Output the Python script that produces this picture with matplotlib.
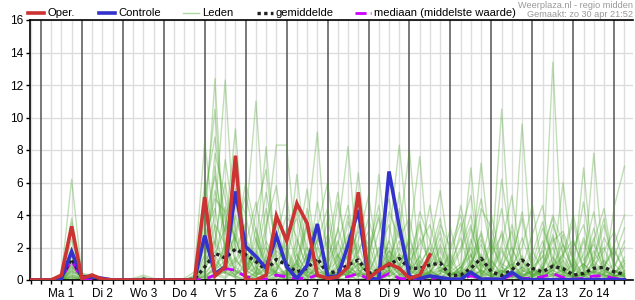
import numpy as np
import matplotlib
matplotlib.use("Agg")
import matplotlib.pyplot as plt
from matplotlib.lines import Line2D

plt.rcParams['font.family'] = ['Liberation Sans', 'DejaVu Sans']

# 6-hourly steps from -6 h to 342 h (0 h = start of "Ma 1")
hours = list(range(-6, 348, 6))

day_labels = ["Ma 1", "Di 2", "Wo 3", "Do 4", "Vr 5", "Za 6", "Zo 7",
              "Ma 8", "Di 9", "Wo 10", "Do 11", "Vr 12", "Za 13", "Zo 14"]
y_ticks = [0, 2, 4, 6, 8, 10, 12, 14, 16]

oper = [0, 0, 0, 0.3, 3.3, 0.1, 0.3, 0.05, 0, 0, 0, 0, 0, 0, 0, 0, 0,
        5.1, 0.25, 0.8, 7.65, 0, 0, 0.3, 3.95, 2.42, 4.7, 3.5, 0.3,
        0.1, 0.2, 0.8, 5.4, 0.1, 0.6, 1.0, 0.72, 0.1, 0.3, 1.55]

controle = [0, 0, 0, 0.1, 1.75, 0.15, 0.2, 0.1, 0, 0, 0, 0, 0, 0, 0, 0, 0,
            2.73, 0.4, 0.8, 5.45, 2.05, 1.45, 0.72, 2.73, 0.82, 0.1, 0.9, 3.45,
            0.2, 0.25, 2.15, 4.3, 0.1, 0.05, 6.68, 3.3, 0.2, 0.1, 0.25, 0.15,
            0.05, 0.05, 0.47, 0.05, 0.05, 0.05, 0.47, 0.05, 0.02, 0.02, 0.02, 0.02,
            0.02, 0.02, 0.02, 0.02, 0.02, 0.02]

gemiddelde = [0, 0, 0, 0.2, 1.3, 0.2, 0.2, 0.05, 0, 0, 0, 0.05, 0, 0, 0, 0, 0.05,
              0.8, 1.65, 1.35, 1.9, 1.55, 1.13, 0.62, 1.27, 0.92, 0.5, 0.72, 1.33,
              0.4, 0.55, 0.92, 1.23, 0.4, 0.6, 0.92, 1.33, 0.72, 0.72, 0.92, 1.05,
              0.27, 0.3, 0.72, 1.34, 0.51, 0.27, 0.62, 1.23, 0.72, 0.5, 0.85, 0.7,
              0.3, 0.4, 0.72, 0.78, 0.5, 0.35]

mediaan = [0, 0, 0, 0.1, 1.2, 0.05, 0.05, 0, 0, 0, 0, 0, 0, 0, 0, 0, 0,
           0.05, 0.3, 0.7, 0.6, 0.2, 0.1, 0.05, 0.3, 0.2, 0.1, 0.1, 0.3,
           0.1, 0.15, 0.2, 0.4, 0.05, 0.1, 0.4, 0.1, 0.05, 0.1, 0.1, 0.15,
           0.05, 0.05, 0.25, 0.1, 0.05, 0.05, 0.3, 0.1, 0.1, 0.2, 0.4, 0.15,
           0.05, 0.1, 0.25, 0.25, 0.1, 0.05]

leden = [
    [0, 0,0,0.3,6.2, 0.3,0.2,0,0, 0,0,0,0, 0,0,0,0.3, 3.0,12.4,1.0,4.0, 1.5,0.5,2.0,0.3, 0,1.2,3.5,0.8, 0.2,0.5,2.0,5.0, 0.8,0.3,1.5,0.5, 0,0.4,1.2,3.0, 0.5,0.2,1.0,2.5, 0.8,0.3,0.5,1.5, 0.2,0.8,2.0,0.5, 0.1,0.3,1.8,0.6, 0.2,0.5],
    [0, 0,0,0.2,3.8, 0.4,0.3,0.1,0, 0,0,0.2,0, 0,0,0,0, 1.5,4.0,12.3,2.0, 0.5,1.8,0.3,0, 0.5,2.5,0.8,0.2, 0,1.5,0.4,2.2, 0.3,0,0.8,3.5, 1.0,0.2,0.5,1.8, 0.3,0.8,2.0,0.4, 0,1.2,3.0,0.6, 0.3,0,0.8,2.2, 0.5,1.0,0.3,0, 0.4,1.2],
    [0, 0,0,0.1,3.5, 0.2,0.4,0,0, 0,0,0,0, 0,0,0.1,0.5, 8.5,3.0,0.5,1.2, 2.5,0.8,0,0.6, 1.8,0.4,0,1.0, 2.8,0.6,0.2,1.5, 0.4,2.0,0.8,0, 0.3,0.8,2.2,5.5, 1.2,0.3,0.6,0.2, 1.5,2.8,0.4,0, 0.6,1.8,0.4,0.2, 1.2,0.3,0,0.8, 2.0,0.4],
    [0, 0,0,0.2,2.5, 0.1,0.2,0,0, 0,0,0,0, 0,0,0,0.2, 4.5,10.5,2.0,0.6, 0.2,3.2,1.0,0.4, 0,0.3,1.5,2.8, 0.5,0,0.6,1.8, 3.0,0.5,0.2,0.9, 2.5,0.6,0,0.4, 1.8,3.5,0.7,0.2, 0.4,0,1.5,3.8, 0.6,0.2,0.8,1.6, 0.3,2.4,0.5,0.1, 0.6,0.2],
    [0, 0,0,0.1,2.0, 0.3,0.1,0,0, 0,0,0.1,0, 0,0,0,0, 2.0,5.5,3.0,9.3, 1.2,0.4,0.2,2.2, 0.6,0,0.4,1.2, 0.2,3.2,1.0,0.3, 0,0.6,2.4,0.8, 0.2,0,0.5,1.3, 0.1,0.5,3.2,1.0, 0.2,0.6,0.3,0, 1.0,3.2,1.4,0.3, 0.2,0.8,2.6,0.5, 0.3,1.4],
    [0, 0,0,0,1.8, 0.2,0.3,0,0, 0,0,0,0, 0,0,0,0, 1.0,2.5,6.0,1.8, 3.5,11.0,2.0,0.5, 0.2,1.0,0.3,0, 0.6,1.2,4.0,0.8, 0.2,0,0.3,1.6, 0.5,3.4,0.6,0.2, 0,0.4,1.2,0.5, 2.2,0.8,0.2,0.6, 0.3,0.5,1.0,0.2, 0,0.6,1.4,3.8, 0.6,0.2],
    [0, 0,0,0.1,1.5, 0.2,0.1,0,0, 0,0,0,0, 0,0,0,0, 0.6,7.0,1.5,0.3, 0.8,2.0,8.2,1.0, 0.3,0,0.6,2.0, 0.4,0.2,0.8,0.3, 1.5,4.0,0.5,0.1, 0,0.3,0.9,2.0, 0.5,1.0,6.9,0.2, 0.6,0.3,0.1,0.8, 0.2,0.6,2.8,0.5, 0.1,0.4,0.8,0.3, 0.2,0.6],
    [0, 0,0,0,1.2, 0.1,0.2,0,0, 0,0,0,0, 0,0,0,0, 0.3,1.2,4.5,2.5, 0.8,0.4,3.0,8.3, 8.3,1.5,0.5,0.2, 0,0.8,0.3,1.4, 0.6,0.2,1.0,0.4, 0.2,1.2,0.3,0, 0.8,0.3,2.5,0.6, 0.2,0.4,1.2,0.3, 0.5,0,0.4,1.6, 2.5,0.6,0.2,0.4, 1.0,0.3],
    [0, 0,0,0,1.0, 0.1,0.1,0,0, 0,0,0,0, 0,0,0,0, 0.2,0.8,2.0,5.0, 0.6,0.2,1.4,3.6, 1.0,6.5,1.2,0.4, 0.2,0.5,1.5,0.6, 0,0.3,0.8,2.4, 0.6,0.2,0,0.6, 0.3,0.6,0.2,1.4, 0.4,2.0,0.6,0.2, 0,0.3,0.8,6.0, 0.8,0.2,1.2,0.4, 0.6,0.3],
    [0, 0,0,0,0.8, 0,0.1,0,0, 0,0,0,0, 0,0,0,0, 0.5,2.4,0.8,0.3, 1.8,0.5,0.2,1.2, 2.0,0.6,3.2,9.1, 0.8,0.2,0.4,1.0, 0.3,0.8,0.2,0.6, 1.4,0.3,0.6,0.2, 0,0.4,1.0,7.2, 1.2,0.3,0.2,0.5, 0.8,0.2,0.6,1.2, 0.3,0,0.5,0.8, 0.2,0.4],
    [0, 0,0,0,0.6, 0.1,0,0,0, 0,0,0,0, 0,0,0,0, 0.2,0.6,1.8,0.5, 0.2,2.6,0.6,0, 0.4,1.2,0.3,0.6, 1.4,3.0,8.2,0.6, 0.2,0.6,1.8,0.4, 0,0.3,0.5,1.2, 0.4,0.2,0.8,0.3, 1.0,10.5,0.8,0.2, 0.5,1.5,0.3,0.2, 0.6,0.3,1.0,0.4, 0.2,0.8],
    [0, 0,0,0,0.5, 0,0,0,0, 0,0,0,0, 0,0,0,0, 0,1.0,0.4,2.6, 0.6,0.2,0.8,0.4, 0,0.6,2.0,0.5, 0.3,0.8,1.5,6.6, 1.2,0.3,0.6,0.2, 0.4,1.5,0.3,0.2, 0.5,0.2,0.4,1.6, 0.3,0.6,0.2,9.6, 0.8,0.2,0.4,0.3, 1.0,0.2,0.6,0.3, 0.2,0.5],
    [0, 0,0,0,0.4, 0,0.1,0,0, 0,0,0,0, 0,0,0,0, 0,0.4,1.0,0.2, 0.4,1.4,0.3,0.6, 1.6,0.2,0.5,0.3, 0.2,0.6,0.3,1.0, 0.4,6.5,1.0,0.3, 0.8,0.2,0.4,0.6, 0.2,0.8,0.3,0.5, 0.2,0.4,1.0,0.3, 0.6,0.2,13.4,0.8, 0.3,0.5,0.2,0.6, 0.3,0.2],
    [0, 0,0,0,0.3, 0,0,0,0, 0,0,0.1,0, 0,0,0,0, 0,0.2,0.6,1.4, 0.3,0.8,0.2,0.4, 0.6,1.0,0.2,0.4, 0,0.3,0.6,0.2, 0.5,0.2,2.5,8.3, 2.0,0.4,0.2,0.6, 0.3,0.6,1.5,0.4, 0.2,0.5,0.3,0.8, 0.4,0.2,0.6,0.2, 0.3,6.9,0.4,0.2, 0.5,0.3],
    [0, 0,0,0,0.2, 0,0,0,0, 0,0,0,0, 0,0,0,0, 0.1,0.4,0.2,0.8, 0.2,0.4,1.0,0.2, 0.3,0.6,0.2,0.8, 0.2,0.4,0.3,0.6, 0.2,0.8,1.2,3.0, 8.0,0.6,0.2,0.4, 0.6,0.2,0.5,1.0, 0.3,0.6,0.2,0.4, 0.2,0.5,0.3,0.6, 0.2,0.4,7.8,0.6, 0.3,0.2],
    [0, 0,0,0,0.2, 0,0,0,0, 0,0,0,0, 0,0,0,0, 0,0.3,0.5,0.2, 0.1,0.3,0.6,0.2, 0.4,0.2,0.6,0.3, 0.2,0.5,0.2,0.4, 0.3,0.2,0.5,0.8, 2.5,7.6,0.5,0.2, 0.3,0.5,0.2,0.6, 0.4,0.2,0.6,0.3, 0.2,0.4,0.8,0.5, 0.2,0.3,0.5,0.3, 4.5,7.0],
    [0, 0,0,0,0.1, 0,0,0,0, 0,0,0,0, 0,0,0,0, 0.8,1.5,0.4,0.2, 0,0.5,1.2,0.3, 0.1,0.2,0.8,0.4, 0.6,1.6,0.3,0, 0.2,0.4,0,0.3, 0.1,0.6,0.3,0.8, 0.2,0,0.4,0.2, 0,0.3,0.2,0, 0.3,0.8,0.2,0.1, 0,0.2,0.5,0.2, 0.1,0.3],
    [0, 0,0,0,0, 0,0,0,0, 0,0,0,0, 0,0,0,0, 0.3,0.6,2.2,0.5, 0.2,0,0.3,0.8, 0.2,0.5,0,0.2, 0,0.2,0.5,0.3, 0,0.2,0.6,0, 0.3,0.2,0.1,0.4, 0,0.3,0.6,0, 0.2,0.1,0.4,0.2, 0,0.2,0.6,0.3, 0.1,0.4,0.2,0, 0.2,0.1],
    [0, 0,0,0,0, 0,0,0,0, 0,0,0,0, 0,0,0,0, 0.2,0.3,0.1,0.6, 0.3,0.1,0,0.2, 0.5,0.1,0.2,0, 0.3,0.1,0,0.4, 0.2,0,0.3,0.1, 0,0.2,0.4,0.1, 0.3,0.1,0,0.2, 0.1,0.3,0,0.1, 0.2,0,0.3,0.1, 0,0.2,0.1,0.3, 0,0.1],
    [0, 0,0,0,0, 0,0,0,0, 0,0,0,0, 0,0,0,0, 0,0.2,0.5,0.1, 0,0.2,0.1,0, 0.2,0,0.1,0.3, 0,0,0.2,0.1, 0,0.1,0,0.2, 0.1,0,0.2,0, 0,0.1,0,0.1, 0,0,0.2,0, 0.1,0,0,0.2, 0,0.1,0,0, 0.1,0],
    [0, 0,0,0.1,1.0, 0.2,0.1,0,0, 0,0,0,0, 0,0,0,0.1, 2.4,5.0,4.2,1.0, 2.2,4.8,1.2,0.4, 3.2,1.0,4.4,1.5, 0.5,2.2,4.6,1.0, 0.4,1.8,3.4,0.6, 1.4,3.6,0.8,2.6, 0.8,2.0,4.0,1.2, 0.4,3.0,1.2,4.2, 0.8,2.4,0.6,2.8, 0.5,1.6,4.2,0.8, 2.2,4.0],
    [0, 0,0,0.2,1.4, 0.2,0.2,0,0, 0,0,0,0, 0,0,0,0, 6.0,2.0,7.4,3.2, 0.8,1.6,5.4,2.0, 4.0,2.6,0.6,4.8, 1.8,5.4,1.2,2.4, 5.2,1.0,0.4,4.4, 0.6,1.4,4.6,0.8, 3.2,0.6,2.2,5.0, 1.6,4.4,0.8,2.0, 4.6,0.5,2.4,3.0, 1.2,4.8,0.6,2.6, 1.4,3.2],
    [0, 0,0,0,0.7, 0.4,0.2,0.1,0, 0,0.1,0.3,0.1, 0,0,0,0, 3.6,6.4,2.8,5.6, 4.0,0.8,3.4,5.8, 1.2,4.2,2.0,0.6, 3.8,0.8,2.6,4.2, 0.6,3.0,5.0,1.4, 0.2,2.6,1.0,3.4, 2.0,4.0,0.8,3.0, 0.6,2.2,5.2,0.8, 2.8,4.6,0.8,1.4, 3.6,0.6,2.4,4.4, 0.8,2.0],
    [0, 0,0,0,0.5, 0.3,0.1,0,0, 0,0,0,0, 0,0,0,0, 1.2,7.8,5.0,2.4, 6.0,3.0,0.6,2.6, 5.2,0.8,3.6,2.2, 0.6,4.8,1.4,3.0, 2.2,0.4,4.2,2.6, 3.8,0.8,0.3,2.2, 0.6,3.0,5.2,0.6, 2.6,0.4,3.4,1.2, 0.3,2.0,3.8,0.6, 2.4,0.8,3.2,1.0, 0.4,0.9],
    [0, 0,0,0.1,0.9, 0.1,0.2,0,0, 0,0,0,0, 0,0,0,0.2, 4.0,1.6,3.2,6.8, 2.6,1.2,4.4,0.8, 2.6,3.8,1.0,2.4, 4.4,1.2,0.4,3.4, 1.8,4.6,0.8,2.0, 0.4,4.2,2.4,0.6, 1.0,2.6,0.4,4.4, 3.2,0.8,2.0,0.4, 1.6,3.6,1.0,0.4, 2.0,3.4,0.8,1.8, 3.0,1.0],
    [0, 0,0,0,0.6, 0.2,0.1,0,0, 0,0,0,0, 0,0,0,0, 2.8,4.4,0.8,3.0, 5.2,2.4,1.0,3.0, 0.4,2.0,5.6,1.2, 2.4,0.6,3.6,1.6, 3.8,1.4,2.0,0.6, 2.8,0.4,1.6,3.8, 0.6,1.8,3.4,0.8, 4.0,1.0,0.6,2.6, 0.8,1.4,4.0,2.2, 0.6,2.6,1.2,3.4, 0.8,2.4],
    [0, 0,0,0,0.3, 0.1,0,0,0, 0,0,0,0, 0,0,0,0, 0.6,3.4,2.2,0.8, 1.6,0.6,2.4,1.0, 0.2,1.6,0.4,2.6, 1.0,2.4,0.6,0.2, 1.4,0.4,1.8,1.0, 0.2,1.0,2.0,0.4, 1.6,0.2,1.0,2.2, 0.4,1.8,0.6,1.2, 0.2,1.0,2.6,0.4, 1.4,0.2,1.2,2.0, 0.4,1.0],
    [0, 0,0,0,0.2, 0,0,0,0, 0,0,0,0, 0,0,0,0, 1.6,0.6,1.2,2.8, 0.4,1.4,0.6,1.8, 1.2,0.3,1.6,0.6, 0.2,1.0,1.8,0.4, 1.0,0.2,0.6,1.6, 1.0,0.3,0.8,1.4, 0.2,0.8,1.6,0.3, 1.2,0.4,1.0,0.2, 0.8,0.3,1.4,0.6, 0.2,1.0,0.4,1.2, 0.6,0.2],
    [0, 0,0,0,0.1, 0,0,0,0, 0,0,0,0, 0,0,0,0, 0.4,1.2,0.6,0.3, 1.0,0.3,0.8,0.2, 0.6,0.8,0.2,1.0, 0.5,0.2,0.8,0.4, 0.2,0.6,1.2,0.3, 0.6,0.2,0.5,0.8, 0.3,0.5,0.2,0.6, 0.2,0.8,0.4,0.2, 0.6,0.3,0.2,0.8, 0.4,0.2,0.6,0.3, 0.2,0.4],
    [0, 0,0,0.1,0.8, 0.2,0.3,0.1,0, 0,0,0.1,0, 0,0,0,0, 5.2,8.8,3.6,1.2, 0.6,4.2,6.8,1.4, 2.2,5.0,0.8,3.2, 6.0,1.4,2.8,0.6, 1.6,3.8,0.6,5.4, 1.2,2.2,3.4,1.0, 0.8,4.6,1.4,2.8, 0.4,6.2,2.0,0.6, 1.8,0.6,3.4,1.6, 4.0,1.2,2.2,0.8, 1.8,0.6],
]

W, H = 635, 300
fig = plt.figure(figsize=(W / 100, H / 100), dpi=100)
ax = fig.add_axes([30 / W, 1 - 280 / H, 603 / W, 260 / H])

x = np.array(hours)
xmin, xmax = -6.4, 347

# grid
for h in range(-6, 348, 6):
    if h % 24 == 0:
        ax.axvline(h, color='#555555', lw=1.1, zorder=1)
    else:
        ax.axvline(h, color='#dddddd', lw=1.0, zorder=0.5)
for yv in y_ticks[1:]:
    ax.axhline(yv, color='#dddddd', lw=1.0, zorder=0.5)

for m in leden:
    ax.plot(x, m, color='#4ea630', lw=1.0, alpha=0.35, zorder=2)

ax.plot(x, mediaan, color='#cc00ff', lw=2.0, dashes=(4.0, 2.5), zorder=3)
ax.plot(x, gemiddelde, color='#222222', lw=2.4, dashes=(1.0, 1.0), zorder=4)
ax.plot(x, controle, color='#3333cc', lw=2.6, zorder=5, solid_joinstyle='miter')
ax.plot(x[:len(oper)], oper, color='#cc3333', lw=2.6, zorder=6, solid_joinstyle='miter')

ax.set_xlim(xmin, xmax)
ax.set_ylim(0, 16)
ax.set_yticks(y_ticks)
ax.set_yticklabels([str(v) for v in y_ticks], fontsize=8.5)
ax.set_xticks([12 + 24 * i for i in range(len(day_labels))])
ax.set_xticklabels(day_labels, fontsize=8.5)
ax.set_xticks(list(range(-6, 348, 6)), minor=True)
ax.tick_params(axis='x', which='both', length=3, width=1, direction='out', pad=3)
ax.tick_params(axis='y', length=3, width=1, direction='out', pad=2)
for s in ['left', 'top', 'bottom']:
    ax.spines[s].set_color('black')
    ax.spines[s].set_linewidth(1.2)
ax.spines['right'].set_visible(False)

# legend (manual, in figure pixels)
def fx(px):
    return px / W

def fy(py):
    return 1 - py / H

ly = 13
items = [
    (28, 'Oper.', dict(color='#cc3333', lw=2.6)),
    (99, 'Controle', dict(color='#3333cc', lw=2.6)),
    (183, 'Leden', dict(color='#b0d8a0', lw=1.0)),
    (257, 'gemiddelde', dict(color='#222222', lw=2.4, dashes=(1.0, 1.0))),
    (355, 'mediaan (middelste waarde)', dict(color='#cc00ff', lw=2.0, dashes=(4.0, 1.5))),
]
for x0, label, kw in items:
    fig.add_artist(Line2D([fx(x0), fx(x0 + 16)], [fy(ly), fy(ly)], **kw))
    fig.text(fx(x0 + 19), fy(ly), label, fontsize=8.1, va='center', ha='left')

fig.text(fx(633), fy(5), 'Weerplaza.nl - regio midden', fontsize=6.6,
         color='#999999', ha='right', va='center')
fig.text(fx(633), fy(14.5), 'Gemaakt: zo 30 apr 21:52', fontsize=6.6,
         color='#999999', ha='right', va='center')

fig.savefig('out.png', dpi=100)
